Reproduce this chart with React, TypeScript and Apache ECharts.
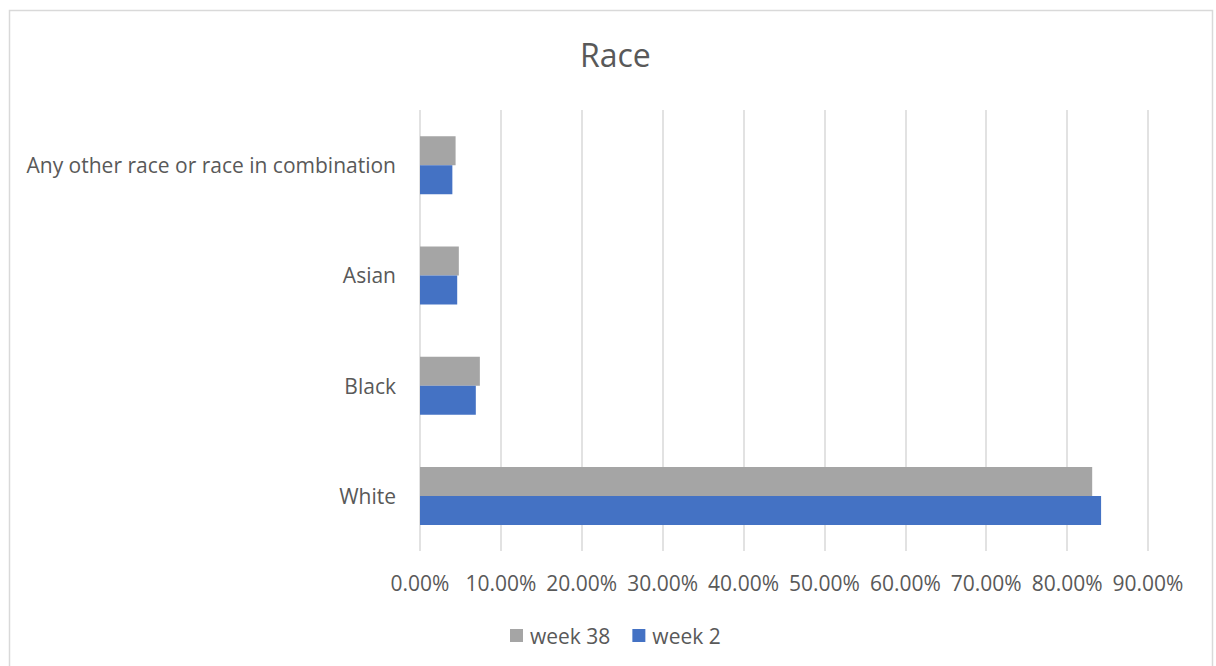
import React, { useEffect, useRef } from "react";
import * as echarts from "echarts";

const categories = ["White", "Black", "Asian", "Any other race or race in combination"];
const week38 = [83.1, 7.4, 4.8, 4.4];
const week2 = [84.2, 6.9, 4.6, 4.0];
const legendOrder = ["week 38", "week 2"];

const FONT = "'Open Sans', 'Noto Sans', sans-serif";
const TEXT = "#595959";

export default function App() {
  const ref = useRef<HTMLDivElement>(null);

  useEffect(() => {
    if (!ref.current) return;
    const chart = echarts.init(ref.current, undefined, { renderer: "svg" });
    chart.setOption({
      animation: false,
      backgroundColor: "#ffffff",
      textStyle: { fontFamily: FONT, color: TEXT },
      title: {
        text: "Race",
        left: 575,
        top: 33,
        textStyle: { fontFamily: FONT, fontSize: 32, fontWeight: "normal", color: TEXT },
      },
      graphic: [
        {
          type: "rect",
          shape: { x: 9.5, y: 10.5, width: 1203, height: 700 },
          style: { fill: "none", stroke: "#d9d9d9", lineWidth: 1.5 },
          silent: true,
        },
      ],
      legend: {
        data: legendOrder,
        bottom: 15,
        left: 505,
        itemWidth: 13,
        itemHeight: 13,
        itemGap: 22,
        icon: "rect",
        textStyle: { fontFamily: FONT, fontSize: 21, color: TEXT, padding: [0, 0, 0, 2] },
      },
      grid: { left: 420, right: 68, top: 110, bottom: 115 },
      xAxis: {
        type: "value",
        min: 0,
        max: 90,
        interval: 10,
        axisLine: { show: false },
        axisTick: { show: false },
        splitLine: { lineStyle: { color: "#d9d9d9", width: 1.5 } },
        axisLabel: {
          margin: 21,
          fontFamily: FONT,
          fontSize: 21,
          color: TEXT,
          formatter: (v: number) => v.toFixed(2) + "%",
        },
      },
      yAxis: {
        type: "category",
        data: categories,
        axisLine: { show: false },
        axisTick: { show: false },
        axisLabel: { margin: 24, fontFamily: FONT, fontSize: 21, color: TEXT },
      },
      series: [
        {
          name: "week 38",
          type: "bar",
          data: week38,
          barWidth: 29,
          barGap: "0%",
          itemStyle: { color: "#a5a5a5" },
        },
        {
          name: "week 2",
          type: "bar",
          data: week2,
          barWidth: 29,
          barGap: "0%",
          itemStyle: { color: "#4472c4" },
        },
      ],
    });
    return () => chart.dispose();
  }, []);

  return (
    <div
      ref={ref}
      style={{ position: "absolute", left: 0, top: 0, width: 1216, height: 666 }}
    />
  );
}
